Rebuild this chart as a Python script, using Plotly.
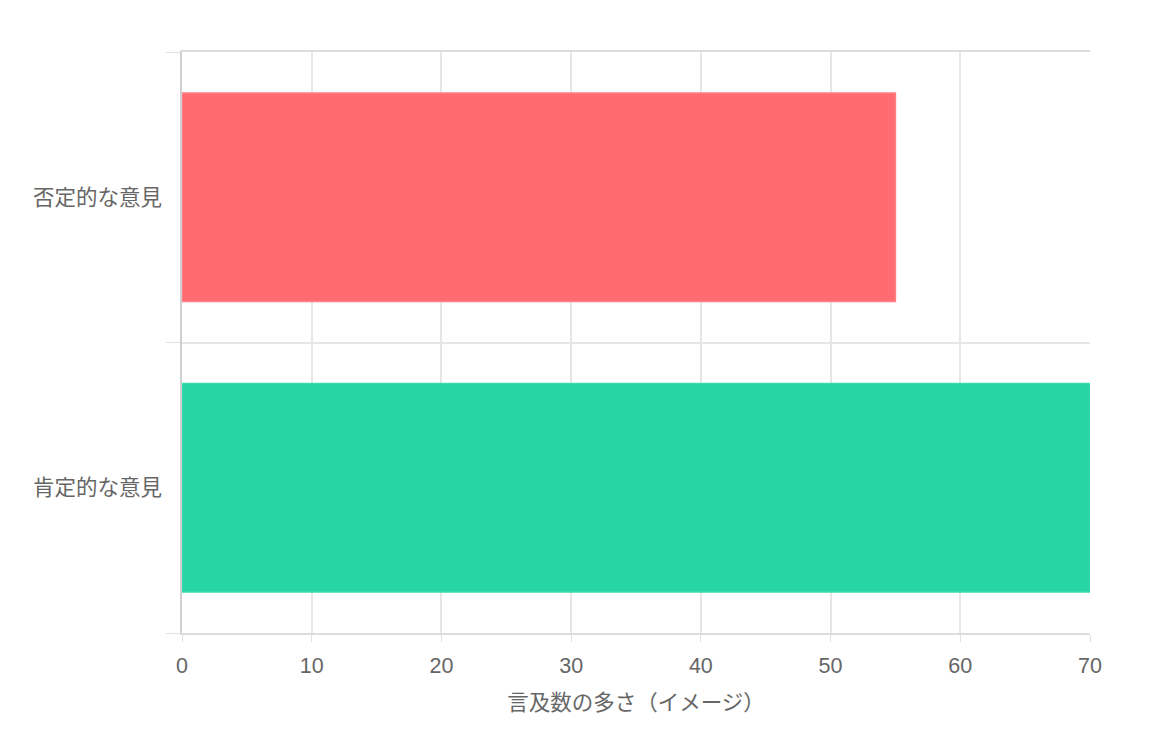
import plotly.graph_objects as go

# 意見の種類（下から上の順）
categories = ["肯定的な意見", "否定的な意見"]
mentions = [70, 55]
fill_colors = ["#26d4a4", "#ff6b70"]
border_colors = ["#3cdaad", "#ff8185"]

x_ticks = [0, 10, 20, 30, 40, 50, 60, 70]

font_family = "Helvetica Neue, Liberation Sans, Noto Sans CJK JP, sans-serif"

fig = go.Figure()

fig.add_trace(go.Bar(
    x=mentions,
    y=categories,
    orientation="h",
    marker=dict(color=fill_colors, line=dict(color=border_colors, width=1.5)),
    hoverinfo="x+y",
    showlegend=False,
))

fig.update_layout(
    width=1160,
    height=752,
    margin=dict(l=174, r=78, t=44, b=127),
    paper_bgcolor="white",
    plot_bgcolor="white",
    bargap=0.283,
    font=dict(family=font_family, size=21.5, color="#666666"),
)

fig.update_xaxes(
    range=[0, 70],
    tickvals=x_ticks,
    ticks="outside",
    ticklen=7,
    tickcolor="#e0e0e0",
    ticklabelstandoff=5,
    showgrid=True,
    gridcolor="#e6e6e6",
    gridwidth=1.5,
    zeroline=False,
    showline=True,
    mirror=True,
    linecolor="#dcdcdc",
    linewidth=1.5,
    title=dict(text="言及数の多さ（イメージ）", standoff=18,
               font=dict(family=font_family, size=21.5, color="#666666")),
)

fig.update_yaxes(
    type="category",
    tickson="boundaries",
    ticks="outside",
    ticklen=14,
    tickcolor="#e0e0e0",
    ticklabelstandoff=14,
    showgrid=True,
    gridcolor="#e6e6e6",
    gridwidth=1.5,
    showline=True,
    linecolor="#d0d0d0",
    linewidth=1.5,
)

fig.write_html("out.html")
